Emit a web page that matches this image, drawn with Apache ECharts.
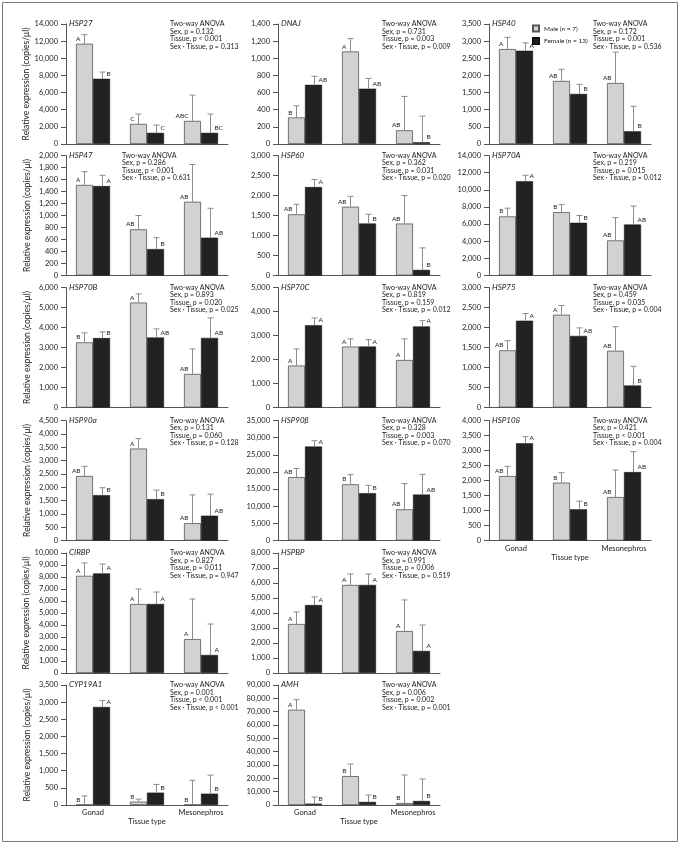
<!DOCTYPE html>
<html><head><meta charset="utf-8">
<script src="https://cdn.jsdelivr.net/npm/echarts@6/dist/echarts.min.js"></script>
<style>html,body{margin:0;padding:0;background:#fff}#c{width:680px;height:844px}</style>
</head><body><div id="c"></div>
<script>
// ---------------- data ----------------
const categories = ['Gonad', 'Adrenal gland', 'Mesonephros'];
const genes = ['HSP27','DNAJ','HSP40','HSP47','HSP60','HSP70A','HSP70B','HSP70C','HSP75','HSP90α','HSP90β','HSP108','CIRBP','HSPBP','CYP19A1','AMH'];
const maleMean = [
  [11700, 2350, 2700], [310, 1080, 160], [2770, 1840, 1780],
  [1510, 770, 1230], [1530, 1720, 1300], [6900, 7400, 4100],
  [3260, 5250, 1680], [1750, 2540, 1980], [1430, 2320, 1420],
  [2420, 3450, 650], [18500, 16400, 9100], [2150, 1930, 1450],
  [8100, 5750, 2830], [3270, 5870, 2800],
  [10, 100, 10], [71500, 21700, 1500]
];
const maleUpper = [
  [12750, 3500, 5700], [445, 1230, 555], [3110, 2180, 2680],
  [1730, 1000, 1850], [1780, 1980, 2000], [7850, 8300, 6750],
  [3730, 5680, 2930], [2440, 2860, 2860], [1670, 2550, 2020],
  [2780, 3820, 1710], [21000, 19200, 16600], [2470, 2260, 2350],
  [9170, 7000, 6170], [4070, 6600, 4870],
  [265, 170, 720], [79000, 30700, 22500]
];
const femaleMean = [
  [7600, 1300, 1300], [690, 645, 20], [2720, 1460, 370],
  [1490, 440, 630], [2210, 1300, 140], [11000, 6150, 5950],
  [3470, 3500, 3480], [3430, 2540, 3380], [2170, 1790, 550],
  [1700, 1550, 930], [27400, 13800, 13400], [3240, 1040, 2280],
  [8300, 5750, 1500], [4530, 5870, 1470],
  [2860, 360, 330], [1000, 2300, 3000]
];
const femaleUpper = [
  [8400, 2200, 3500], [790, 765, 325], [2950, 1740, 1100],
  [1670, 630, 1120], [2400, 1530, 690], [11700, 7000, 8100],
  [3780, 3930, 4480], [3730, 2830, 3620], [2350, 1990, 1030],
  [1980, 1890, 1740], [29100, 16100, 19300], [3460, 1310, 2960],
  [9080, 6750, 4080], [5070, 6600, 3200],
  [3050, 600, 870], [6000, 7500, 19500]
];
const maleLetters = [
  ['A','C','ABC'], ['B','A','AB'], ['A','AB','AB'],
  ['A','AB','AB'], ['AB','AB','AB'], ['B','B','AB'],
  ['B','A','AB'], ['A','A','A'], ['AB','A','AB'],
  ['AB','A','AB'], ['AB','B','AB'], ['AB','B','AB'],
  ['A','A','A'], ['A','A','A'],
  ['B','B','B'], ['A','B','B']
];
const femaleLetters = [
  ['B','C','BC'], ['AB','AB','B'], ['A','B','B'],
  ['A','B','AB'], ['A','B','B'], ['A','B','AB'],
  ['B','AB','AB'], ['A','A','A'], ['A','AB','B'],
  ['B','B','AB'], ['A','B','AB'], ['A','B','AB'],
  ['A','A','A'], ['A','A','A'],
  ['A','B','B'], ['B','B','B']
];
const axisMax  = [14000, 1400, 3500, 2000, 3000, 14000, 6000, 5000, 3000, 4500, 35000, 4000, 10000, 8000, 3500, 90000];
const axisStep = [2000, 200, 500, 200, 500, 2000, 1000, 1000, 500, 500, 5000, 500, 1000, 1000, 500, 10000];
const pSex    = ['p = 0.132','p = 0.731','p = 0.172','p = 0.286','p = 0.362','p = 0.219','p = 0.893','p = 0.819','p = 0.459','p = 0.131','p = 0.328','p = 0.421','p = 0.827','p = 0.991','p = 0.001','p = 0.006'];
const pTissue = ['p < 0.001','p = 0.003','p = 0.001','p < 0.001','p = 0.031','p = 0.015','p = 0.020','p = 0.159','p = 0.035','p = 0.060','p = 0.003','p < 0.001','p = 0.011','p = 0.006','p < 0.001','p = 0.002'];
const pInter  = ['p = 0.313','p = 0.009','p = 0.536','p = 0.631','p = 0.020','p = 0.012','p = 0.025','p = 0.012','p = 0.004','p = 0.128','p = 0.070','p = 0.004','p = 0.947','p = 0.519','p < 0.001','p = 0.001'];
const maleName = 'Male (n = 7)';
const femaleName = 'Female (n = 13)';
const yTitle = 'Relative expression (copies/μl)';
const xTitle = 'Tissue type';

// ---------------- layout ----------------
const FONT = 'Lato, "Noto Sans", sans-serif';
const colLeft = [66, 278, 489];
const rowTop = [24, 155.5, 287.5, 420.5, 553, 685];
const plotW = 162, plotH = 120;
const panelRC = [[0,0],[0,1],[0,2],[1,0],[1,1],[1,2],[2,0],[2,1],[2,2],[3,0],[3,1],[3,2],[4,0],[4,1],[5,0],[5,1]];
const anovaOff = genes.map((g, i) => i === 3 ? 56 : 104);
const xLabelPanels = [11, 14, 15];

const grids = [], xAxes = [], yAxes = [], series = [], graphics = [];
const axisColor = '#555';
panelRC.forEach(([r, c], i) => {
  const left = colLeft[c], top = rowTop[r];
  grids.push({ left: left, top: top, width: plotW, height: plotH });
  const showX = xLabelPanels.includes(i);
  xAxes.push({
    type: 'category', gridIndex: i, data: categories,
    axisLine: { lineStyle: { color: axisColor, width: 1 } },
    axisTick: { length: 4, lineStyle: { color: axisColor } },
    axisLabel: { show: showX, fontSize: 7.5, margin: 4, color: '#222', fontFamily: FONT },
    name: showX ? xTitle : '', nameLocation: 'middle', nameGap: 11,
    nameTextStyle: { fontSize: 7.5, color: '#222', fontFamily: FONT }
  });
  yAxes.push({
    type: 'value', gridIndex: i, min: 0, max: axisMax[i], interval: axisStep[i],
    axisLine: { show: true, lineStyle: { color: axisColor, width: 1 } },
    axisTick: { show: true, length: 5, lineStyle: { color: axisColor } },
    splitLine: { show: false },
    axisLabel: { fontSize: 7.5, margin: 8, color: '#222', fontFamily: FONT,
      formatter: v => v.toLocaleString('en-US') },
    name: c === 0 ? yTitle : '', nameLocation: 'middle', nameGap: 34,
    nameTextStyle: { fontSize: 8.5, color: '#222', fontFamily: FONT }
  });
  series.push({
    type: 'bar', name: maleName, xAxisIndex: i, yAxisIndex: i,
    data: maleMean[i], barGap: '0%', barCategoryGap: '37%',
    itemStyle: { color: '#d2d2d2', borderColor: '#555', borderWidth: 0.8 },
    emphasis: { disabled: true }
  });
  series.push({
    type: 'bar', name: femaleName, xAxisIndex: i, yAxisIndex: i,
    data: femaleMean[i], barGap: '0%', barCategoryGap: '37%',
    itemStyle: { color: '#222', borderColor: '#111', borderWidth: 0.5 },
    emphasis: { disabled: true }
  });
  const errData = categories.map((_, k) => [k, maleMean[i][k], maleUpper[i][k], femaleMean[i][k], femaleUpper[i][k]]);
  series.push({
    type: 'custom', xAxisIndex: i, yAxisIndex: i, data: errData,
    encode: { x: 0, y: [1, 2, 3, 4] }, z: 5, silent: true,
    renderItem: function (params, api) {
      const k = api.value(0);
      const band = api.size([1, 0])[0];
      const base = api.coord([k, 0]);
      const off = band * 0.315 / 2;
      const children = [];
      [0, 1].forEach(s => {
        const mean = api.value(1 + 2 * s), up = api.value(2 + 2 * s);
        const x = Math.round(base[0] + (s ? off : -off)) + 0.5;
        const yTop = api.coord([k, mean])[1];
        const yUp = api.coord([k, up])[1];
        const st = { stroke: '#8c8c8c', lineWidth: 1 };
        children.push({ type: 'line', shape: { x1: x, y1: yTop, x2: x, y2: yUp }, style: st });
        children.push({ type: 'line', shape: { x1: x - 3, y1: yUp, x2: x + 3, y2: yUp }, style: st });
        const letter = s ? femaleLetters[i][k] : maleLetters[i][k];
        children.push({ type: 'text', style: {
          text: letter, x: s ? x + 4 : x - 4, y: yTop - 1.5,
          align: s ? 'left' : 'right', verticalAlign: 'bottom',
          fontSize: 6.5, fill: '#222', fontFamily: FONT } });
      });
      return { type: 'group', children: children };
    }
  });
  graphics.push({ type: 'text', left: left + 3, top: top - 4.5, style: {
    text: genes[i], fontSize: 8, fontStyle: 'italic', fill: '#222', fontFamily: FONT } });
  graphics.push({ type: 'text', left: left + anovaOff[i], top: top - 4, style: {
    text: ['Two-way ANOVA', 'Sex, ' + pSex[i], 'Tissue, ' + pTissue[i], 'Sex · Tissue, ' + pInter[i]].join('\n'),
    fontSize: 7, lineHeight: 7.5, fill: '#222', fontFamily: FONT } });
});
graphics.push({ type: 'rect', shape: { x: 2.5, y: 2.5, width: 675, height: 839 },
  style: { fill: 'none', stroke: '#777', lineWidth: 1 }, silent: true });

const chart = echarts.init(document.getElementById('c'), null, { renderer: 'canvas' });
chart.setOption({
  animation: false,
  backgroundColor: '#fff',
  legend: {
    data: [maleName, femaleName], orient: 'vertical', left: 527, top: 19.5,
    itemWidth: 6, itemHeight: 6, itemGap: 4.5, icon: 'rect',
    textStyle: { fontSize: 6.5, color: '#222', fontFamily: FONT }, selectedMode: false
  },
  grid: grids, xAxis: xAxes, yAxis: yAxes, series: series, graphic: graphics
});
</script></body></html>
